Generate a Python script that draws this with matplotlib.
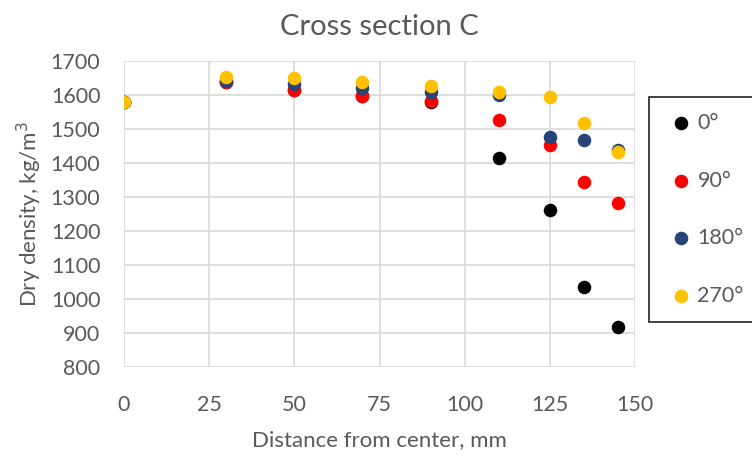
import matplotlib
matplotlib.use("Agg")
import matplotlib.pyplot as plt

plt.rcParams['font.family'] = ['Lato', 'DejaVu Sans']

x = [0, 30, 50, 70, 90, 110, 125, 135, 145]
series_labels = ["0°", "90°", "180°", "270°"]
colors = ["#000000", "#ff0000", "#264478", "#ffc000"]
y0 = [1580, 1637, 1615, 1597, 1580, 1416, 1262, 1034, 919]
y90 = [1580, 1639, 1615, 1597, 1582, 1526, 1453, 1343, 1281]
y180 = [1580, 1642, 1631, 1620, 1610, 1600, 1477, 1468, 1438]
y270 = [1580, 1652, 1649, 1637, 1627, 1610, 1593, 1517, 1432]
xticks = [0, 25, 50, 75, 100, 125, 150]
yticks = list(range(800, 1701, 100))

fig = plt.figure(figsize=(7.52, 4.61), dpi=100)
ax = fig.add_axes([124/752, 1 - 367/461, (635-124)/752, (367-61)/461])

for ys, c, lab in zip([y0, y90, y180, y270], colors, series_labels):
    ax.scatter(x, ys, s=95, color=c, label=lab, zorder=3, linewidths=0)

ax.set_xlim(0, 150)
ax.set_ylim(800, 1700)
ax.set_xticks(xticks)
ax.set_yticks(yticks)
ax.grid(True, color="#d9d9d9", linewidth=1.2, zorder=0)
ax.set_axisbelow(True)
for s in ax.spines.values():
    s.set_visible(False)
ax.tick_params(length=0, labelsize=15.5, colors="#595959")
ax.tick_params(axis="x", pad=20)
ax.tick_params(axis="y", pad=17)
ax.set_xlabel("Distance from center, mm", fontsize=16, color="#595959", labelpad=11)
ax.set_ylabel("Dry density, kg/m$^3$", fontsize=16, color="#595959", labelpad=5)
ax.set_title("Cross section C", fontsize=21, color="#595959", pad=19)

leg = fig.legend(loc="upper left", bbox_to_anchor=(649/752, 1 - 97/461, 0.2, 0),
                 mode="expand",
                 frameon=True, fancybox=False, edgecolor="black",
                 fontsize=15.5, labelspacing=1.74, handletextpad=0.0,
                 borderpad=0.75, handlelength=1.5, borderaxespad=0)
leg.get_frame().set_linewidth(1.3)
for t in leg.get_texts():
    t.set_color("#595959")

fig.savefig("out.png", dpi=100)
